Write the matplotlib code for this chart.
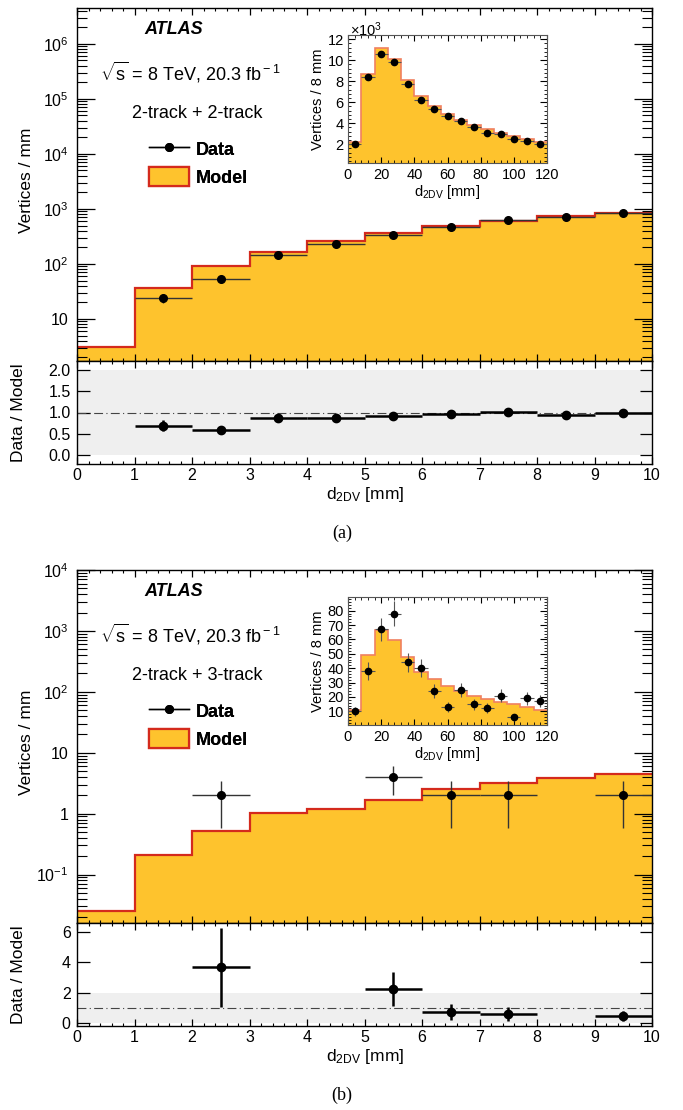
import numpy as np
import matplotlib.pyplot as plt
from matplotlib.lines import Line2D
from matplotlib.patches import Patch
from matplotlib.ticker import LogLocator, FuncFormatter, MultipleLocator, NullFormatter, NullLocator

plt.rcParams['font.family'] = ['Liberation Sans', 'DejaVu Sans']
plt.rcParams['mathtext.fontset'] = 'custom'
plt.rcParams['mathtext.rm'] = 'Liberation Sans'
plt.rcParams['mathtext.it'] = 'Liberation Sans:italic'
plt.rcParams['mathtext.bf'] = 'Liberation Sans:bold'

# binning
edges = np.arange(0, 11, 1)
inset_edges = np.arange(0, 121, 8)

# (a) 2-track + 2-track
a_model = [3.1, 36.6, 92, 165, 262, 371, 497, 612, 736, 857]
a_data = [np.nan, 24, 53, 146, 231, 337, 476, 620, 706, 835]
a_data_err = [np.nan, 4.9, 7.3, 12, 15, 18, 22, 25, 27, 29]
a_ratio = [np.nan, 0.69, 0.58, 0.88, 0.87, 0.91, 0.96, 1.01, 0.95, 0.98]
a_ratio_err = [np.nan, 0.13, 0.08, 0.07, 0.06, 0.05, 0.04, 0.04, 0.04, 0.03]
a_ins_model = [2.16, 8.67, 11.18, 10.1, 8.1, 6.6, 5.63, 4.85, 4.33, 3.8, 3.42, 3.05, 2.74, 2.47, 2.16]
a_ins_data = [2.0, 8.35, 10.6, 9.85, 7.7, 6.2, 5.3, 4.7, 4.2, 3.65, 3.1, 3.0, 2.53, 2.3, 2.03]
a_ins_err = [0.05, 0.09, 0.1, 0.1, 0.09, 0.08, 0.07, 0.07, 0.06, 0.06, 0.06, 0.05, 0.05, 0.05, 0.05]

# (b) 2-track + 3-track
b_model = [0.025, 0.213, 0.52, 1.02, 1.18, 1.7, 2.53, 3.14, 3.89, 4.4]
b_data = [np.nan, np.nan, 2, np.nan, np.nan, 4, 2, 2, np.nan, 2]
b_data_err = [np.nan, np.nan, 1.41, np.nan, np.nan, 2.0, 1.41, 1.41, np.nan, 1.41]
b_ratio = [np.nan, np.nan, 3.7, np.nan, np.nan, 2.28, 0.76, 0.62, np.nan, 0.47]
b_ratio_err = [np.nan, np.nan, 2.6, np.nan, np.nan, 1.12, 0.54, 0.44, np.nan, 0.33]
b_ins_model = [10.7, 49.2, 66.3, 59.7, 47.8, 37.6, 32.4, 27.8, 24.3, 21, 18.9, 16.6, 14.9, 12.8, 11]
b_ins_data = [10, 38, 67, 78, 44, 40, 24, 13, 25, 15, 12, 21, 6, 19, 17]
b_ins_err = [3.2, 6.2, 8.2, 8.8, 6.6, 6.3, 4.9, 3.6, 5, 3.9, 3.5, 4.6, 2.4, 4.4, 4.1]

FILL = '#FEC32D'
RED = '#D42A1C'
W, H = 683, 1110

fig = plt.figure(figsize=(W / 100, H / 100), dpi=100)


def box(x0, y0, x1, y1):
    # pixel box (top-left origin) -> figure fraction rect
    return [x0 / W, 1 - y1 / H, (x1 - x0) / W, (y1 - y0) / H]


def ftext(x, y, s, **kw):
    fig.text(x / W, 1 - y / H, s, **kw)


def make_log_fmt(lo, hi):
    def log_fmt(v, pos):
        # only label decades inside the visible range
        if v < lo * 0.999 or v > hi * 1.001:
            return ''
        if abs(v - 1) < 1e-9:
            return '1'
        if abs(v - 10) < 1e-9:
            return '10'
        return r'$10^{%d}$' % int(round(np.log10(v)))
    return log_fmt


def panel(top, model, data, data_err, ratio, ratio_err, ins_model, ins_data, ins_err,
          ylim, ins_ylim, ins_major, ins_minor, ins_times, ratio_ylim, ratio_major,
          label, caption):
    centers = 0.5 * (edges[:-1] + edges[1:])
    ax = fig.add_axes(box(77, top, 652, top + 353))
    ax.stairs(model, edges, fill=True, baseline=1e-4, facecolor=FILL, edgecolor='none')
    ax.stairs(model, edges, baseline=None, color=RED, lw=1.6)
    ax.errorbar(centers, data, xerr=0.5, yerr=data_err, fmt='o', color='black', ms=5.5,
                ecolor='#333333', elinewidth=1, capsize=0)
    ax.set_yscale('log')
    ax.set_xlim(0, 10)
    ax.set_ylim(*ylim)
    ax.yaxis.set_major_locator(LogLocator(base=10, numticks=20))
    ax.yaxis.set_minor_locator(LogLocator(base=10, subs=np.arange(2, 10), numticks=20))
    ax.yaxis.set_major_formatter(FuncFormatter(make_log_fmt(*ylim)))
    ax.yaxis.set_minor_formatter(NullFormatter())
    ax.xaxis.set_major_locator(MultipleLocator(1))
    ax.xaxis.set_minor_locator(MultipleLocator(0.2))
    ax.tick_params(which='both', direction='in', top=True, right=True, labelbottom=False)
    ax.tick_params(axis='y', which='major', length=13, width=0.9, labelsize=11.5, pad=6)
    ax.tick_params(axis='y', which='minor', length=7, width=0.8)
    ax.tick_params(axis='x', which='major', length=5, width=0.9)
    ax.tick_params(axis='x', which='minor', length=2.5, width=0.8)
    for sp in ax.spines.values():
        sp.set_linewidth(1.0)

    ftext(174, top + 22, 'ATLAS', fontsize=13, fontweight='bold', fontstyle='italic',
          ha='center', va='center')
    ftext(100, top + 64, r'$\sqrt{\rm s}$ = 8 TeV, 20.3 fb$^{\rm -1}$', fontsize=13,
          ha='left', va='center')
    ftext(197, top + 105, label, fontsize=13, ha='center', va='center')

    handles = [Line2D([], [], color='black', marker='o', ms=5.5, lw=1),
               Patch(facecolor=FILL, edgecolor=RED, lw=1.6)]
    leg = ax.legend(handles, ['Data', 'Model'], loc='upper left',
                    bbox_to_anchor=((133 - 77) / 575, 1 - 115 / 353),
                    frameon=False, prop={'weight': 'bold', 'size': 13},
                    handlelength=2.2, handleheight=1.3, handletextpad=0.4, labelspacing=0.42)
    ax.add_artist(leg)

    # inset
    ai = fig.add_axes(box(348, top + 27, 547, top + 155))
    ai.stairs(ins_model, inset_edges, fill=True, baseline=0, facecolor=FILL, edgecolor='none')
    ai.stairs(ins_model, inset_edges, baseline=None, color='#F08060', lw=1.2)
    icent = 0.5 * (inset_edges[:-1] + inset_edges[1:])
    ai.errorbar(icent, ins_data, xerr=4, yerr=ins_err, fmt='o', color='black', ms=4.5,
                ecolor='#555555', elinewidth=0.8, capsize=0)
    ai.set_xlim(0, 120)
    ai.set_ylim(*ins_ylim)
    ai.xaxis.set_major_locator(MultipleLocator(20))
    ai.xaxis.set_minor_locator(MultipleLocator(4))
    ai.yaxis.set_major_locator(MultipleLocator(ins_major))
    ai.yaxis.set_minor_locator(MultipleLocator(ins_minor))
    ai.tick_params(which='both', direction='in', top=True, right=True, labelsize=10.5)
    ai.tick_params(axis='y', which='major', length=5, pad=3)
    ai.tick_params(axis='y', which='minor', length=2.5)
    ai.tick_params(axis='x', which='major', length=4, pad=3.5)
    ai.tick_params(axis='x', which='minor', length=2)
    for sp in ai.spines.values():
        sp.set_linewidth(0.8)
        sp.set_color('#555555')
    ai.set_xlabel(r'd$_{\rm 2DV}$ [mm]', fontsize=10.5, labelpad=1)
    ai.set_ylabel('Vertices / 8 mm', fontsize=10.5, labelpad=2)
    if ins_times:
        ftext(350, top + 22, r'$\times10^{3}$', fontsize=10.5, ha='left', va='center')

    # ratio
    ar = fig.add_axes(box(77, top + 353, 652, top + 456))
    ar.axhspan(0, 2, color='#EFEFEF', lw=0)
    ar.axhline(1, color='#444444', lw=0.8, ls=(0, (8, 3, 1, 3)))
    ar.errorbar(centers, ratio, xerr=0.5, yerr=ratio_err, fmt='o', color='black', ms=6,
                elinewidth=1.8, capsize=0)
    ar.set_xlim(0, 10)
    ar.set_ylim(*ratio_ylim)
    ar.xaxis.set_major_locator(MultipleLocator(1))
    ar.xaxis.set_minor_locator(MultipleLocator(0.2))
    ar.yaxis.set_major_locator(MultipleLocator(ratio_major))
    ar.yaxis.set_minor_locator(NullLocator())
    if ratio_major < 1:
        ar.yaxis.set_major_formatter(FuncFormatter(lambda v, p: '%.1f' % v))
    ar.tick_params(which='both', direction='in', top=True, right=True, labelsize=11.5)
    ar.tick_params(axis='y', which='major', length=9, width=0.9, pad=4.5)
    ar.tick_params(axis='x', which='major', length=5, width=0.9, pad=3)
    ar.tick_params(axis='x', which='minor', length=2.5, width=0.8)
    for sp in ar.spines.values():
        sp.set_linewidth(1.0)

    ftext(27, top + 172, 'Vertices / mm', fontsize=12.5, rotation=90, ha='center', va='center')
    ftext(19, top + 405, 'Data / Model', fontsize=12.5, rotation=90, ha='center', va='center')
    ftext(365, top + 487, r'd$_{\rm 2DV}$ [mm]', fontsize=12.5, ha='center', va='center')
    ftext(342, top + 525, caption, fontsize=13, family='Liberation Serif', ha='center', va='center')
    return ax


panel(8, a_model, a_data, a_data_err, a_ratio, a_ratio_err, a_ins_model, a_ins_data, a_ins_err,
      (1.72, 4.5e6), (0.2, 12.4), 2, 0.4, True, (-0.21, 2.21), 0.5, '2-track + 2-track', '(a)')
panel(570, b_model, b_data, b_data_err, b_ratio, b_ratio_err, b_ins_model, b_ins_data, b_ins_err,
      (0.016, 1e4), (0.5, 89.5), 10, 2, False, (-0.18, 6.6), 2, '2-track + 3-track', '(b)')

fig.savefig('out.png', dpi=100)
